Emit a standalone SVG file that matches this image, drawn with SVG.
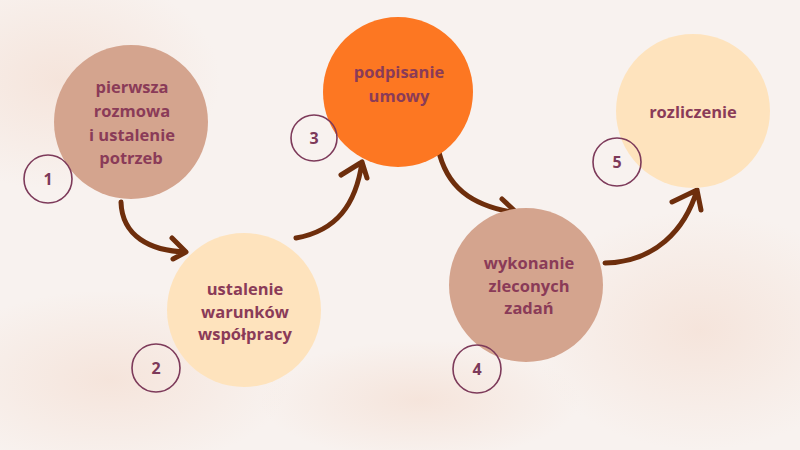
<svg xmlns="http://www.w3.org/2000/svg" width="800" height="450" viewBox="0 0 800 450">
<defs>
<radialGradient id="blob" cx="50%" cy="50%" r="50%">
<stop offset="0" stop-color="#f3d9cb" stop-opacity="0.55"/>
<stop offset="1" stop-color="#f3d9cb" stop-opacity="0"/>
</radialGradient>
<style>
.lbl{font-family:"Open Sans","Liberation Sans",sans-serif;font-weight:bold;font-size:16.5px;fill:#8a3b58;text-anchor:middle}
.num{font-family:"Open Sans","Liberation Sans",sans-serif;font-weight:bold;font-size:16px;fill:#7d3a5a;text-anchor:middle}
.badge{fill:none;stroke:#7d3a5a;stroke-width:1.6}
.tan{fill:#d4a48e}
.peach{fill:#fee3bd}
.orange{fill:#fd7722}
.arr{fill:none;stroke:#6e2e0c;stroke-width:5;stroke-linecap:round;stroke-linejoin:round}
</style>
</defs>
<rect width="800" height="450" fill="#f8f2ef"/>
<ellipse cx="60" cy="80" rx="160" ry="110" fill="url(#blob)"/>
<ellipse cx="110" cy="380" rx="180" ry="90" fill="url(#blob)"/>
<ellipse cx="700" cy="330" rx="170" ry="120" fill="url(#blob)"/>
<ellipse cx="420" cy="400" rx="160" ry="60" fill="url(#blob)"/>
<g id="connectors">
<path class="arr" d="M121,202 C122,236 150,251 186,252 M172,238 L186,252 L173,259"/>
<path class="arr" d="M296,238 C336,231 356,205 362,162 M341,175 L362,162 L367,178"/>
<path class="arr" d="M438,148 C446,186 470,206 517,213 M502,199 L517,213 L501,223"/>
<path class="arr" d="M605,263 C655,262 685,230 697,190 M672,202 L697,190 L701,210"/>
</g>
<g id="node1">
<circle class="tan" cx="131" cy="122" r="77"/>
<text class="lbl" x="132" y="93">pierwsza</text>
<text class="lbl" x="132" y="117">rozmowa</text>
<text class="lbl" x="132" y="141">i ustalenie</text>
<text class="lbl" x="131" y="164">potrzeb</text>
<circle class="badge" cx="48" cy="179" r="24"/>
<text class="num" x="48" y="185">1</text>
</g>
<g id="node2">
<circle class="peach" cx="244" cy="310" r="77"/>
<text class="lbl" x="245" y="295">ustalenie</text>
<text class="lbl" x="245" y="318">warunków</text>
<text class="lbl" x="245" y="340">współpracy</text>
<circle class="badge" cx="156" cy="368" r="24"/>
<text class="num" x="156" y="374">2</text>
</g>
<g id="node3">
<circle class="orange" cx="398" cy="92" r="75"/>
<text class="lbl" x="399" y="78">podpisanie</text>
<text class="lbl" x="399" y="102">umowy</text>
<circle class="badge" cx="314" cy="138" r="23"/>
<text class="num" x="314" y="144">3</text>
</g>
<g id="node4">
<circle class="tan" cx="526" cy="285" r="77"/>
<text class="lbl" x="529" y="269">wykonanie</text>
<text class="lbl" x="529" y="292">zleconych</text>
<text class="lbl" x="529" y="314">zadań</text>
<circle class="badge" cx="477" cy="369" r="24"/>
<text class="num" x="477" y="375">4</text>
</g>
<g id="node5">
<circle class="peach" cx="693" cy="111" r="77"/>
<text class="lbl" x="693" y="118">rozliczenie</text>
<circle class="badge" cx="617" cy="162" r="24"/>
<text class="num" x="617" y="168">5</text>
</g>
</svg>
